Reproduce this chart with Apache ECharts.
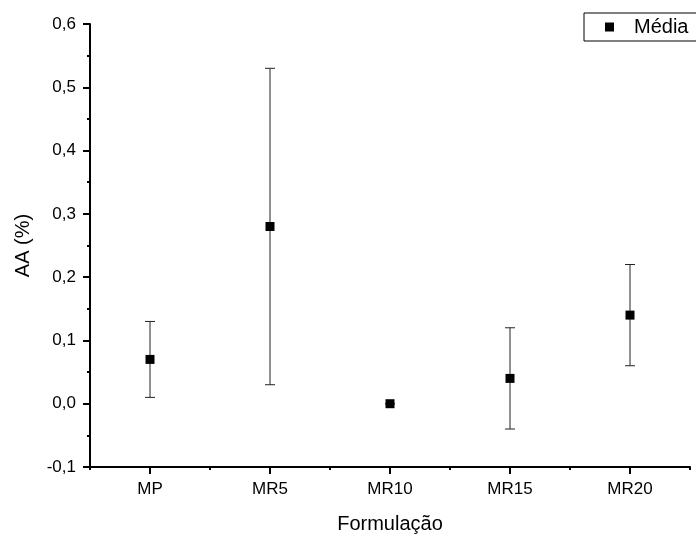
<!DOCTYPE html>
<html>
<head>
<meta charset="utf-8">
<script src="https://cdn.jsdelivr.net/npm/echarts@6/dist/echarts.min.js"></script>
<style>html,body{margin:0;padding:0;background:#fff}#c{width:696px;height:536px}</style>
</head>
<body>
<div id="c"></div>
<script>
const categories = ['MP', 'MR5', 'MR10', 'MR15', 'MR20'];
const meanValues = [0.07, 0.28, 0.00, 0.04, 0.14];
const lowerValues = [0.01, 0.03, 0.00, -0.04, 0.06];
const upperValues = [0.13, 0.53, 0.00, 0.12, 0.22];
const yTicks = [-0.1, 0.0, 0.1, 0.2, 0.3, 0.4, 0.5, 0.6];

const FONT = 'Arial, "Liberation Sans", sans-serif';
const chart = echarts.init(document.getElementById('c'));
const errData = categories.map((c, i) => [i, lowerValues[i], upperValues[i]]);

chart.setOption({
  animation: false,
  backgroundColor: '#fff',
  textStyle: { fontFamily: FONT },
  grid: { left: 90, right: 6, top: 24, bottom: 69, containLabel: false, outerBoundsMode: 'none' },
  legend: {
    data: [{ name: 'Média', icon: 'rect', itemStyle: { color: '#000', opacity: 1 } }],
    left: 584, top: 13,
    itemWidth: 9, itemHeight: 9,
    padding: [4, 20, 4, 21],
    borderColor: '#000', borderWidth: 1,
    textStyle: { fontSize: 20, color: '#000', fontFamily: FONT, padding: [0, 0, 0, 15] }
  },
  xAxis: [{
    type: 'category',
    data: categories,
    position: 'bottom',
    boundaryGap: true,
    name: 'Formulação',
    nameLocation: 'middle',
    nameGap: 47,
    nameTextStyle: { fontSize: 20, color: '#000', fontFamily: FONT },
    axisLine: { show: true, onZero: false, lineStyle: { color: '#000', width: 2 } },
    axisTick: { show: true, alignWithLabel: true, length: 7, lineStyle: { color: '#000', width: 2 } },
    axisLabel: { fontSize: 17, color: '#000', margin: 14, fontFamily: FONT },
    splitLine: { show: false }
  }, {
    type: 'category',
    data: categories,
    position: 'bottom',
    boundaryGap: true,
    axisLine: { show: false, onZero: false },
    axisTick: { show: true, length: 3, lineStyle: { color: '#000', width: 2 } },
    axisLabel: { show: false },
    splitLine: { show: false }
  }],
  yAxis: {
    type: 'value',
    min: yTicks[0], max: yTicks[yTicks.length - 1], interval: 0.1,
    name: 'AA (%)',
    nameLocation: 'middle',
    nameGap: 57,
    nameRotate: 90,
    nameTextStyle: { fontSize: 20, color: '#000', fontFamily: FONT },
    axisLine: { show: true, lineStyle: { color: '#000', width: 2 } },
    axisTick: { show: true, length: 7, lineStyle: { color: '#000', width: 2 } },
    minorTick: { show: true, splitNumber: 2, length: 3, lineStyle: { color: '#000', width: 2 } },
    axisLabel: {
      fontSize: 17, color: '#000', margin: 14, fontFamily: FONT,
      formatter: v => (Math.round(v * 10) / 10).toFixed(1).replace('.', ',')
    },
    splitLine: { show: false },
    minorSplitLine: { show: false }
  },
  series: [{
    type: 'custom',
    name: 'err',
    xAxisIndex: 0,
    data: errData,
    z: 1,
    silent: true,
    renderItem: function (params, api) {
      const x = api.value(0);
      const lo = api.coord([x, api.value(1)]);
      const hi = api.coord([x, api.value(2)]);
      const hw = 5;
      const style = { stroke: '#222', lineWidth: 1 };
      return {
        type: 'group',
        children: [
          { type: 'line', shape: { x1: lo[0], y1: lo[1], x2: hi[0], y2: hi[1] }, style: style },
          { type: 'line', shape: { x1: hi[0] - hw, y1: hi[1], x2: hi[0] + hw, y2: hi[1] }, style: style },
          { type: 'line', shape: { x1: lo[0] - hw, y1: lo[1], x2: lo[0] + hw, y2: lo[1] }, style: style }
        ]
      };
    }
  }, {
    type: 'scatter',
    name: 'Média',
    xAxisIndex: 0,
    data: meanValues,
    symbol: 'rect',
    symbolSize: 9,
    itemStyle: { color: '#000', opacity: 1 },
    z: 3
  }]
});
</script>
</body>
</html>
